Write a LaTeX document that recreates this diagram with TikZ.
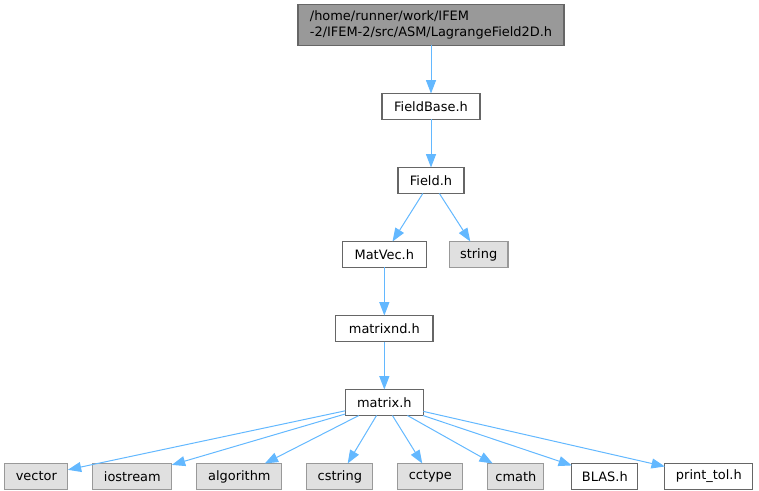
\documentclass[tikz,border=0pt]{standalone}
\usepackage{fontspec}
\setmainfont{DejaVu Sans}
\usepackage{tikz}
\usetikzlibrary{
  arrows.meta,
  positioning,
}
\definecolor{doxyedge}{RGB}{99, 184, 255}
\definecolor{doxydark}{RGB}{102, 102, 102}
\definecolor{doxymid}{RGB}{153, 153, 153}
\definecolor{doxylight}{RGB}{224, 224, 224}
\tikzstyle{file} = [
  rectangle,
  draw=doxydark,
  fill=white,
  line width=0.9pt,
  minimum height=19.5pt,
  inner sep=0pt,
  outer sep=0pt,
  font=\fontsize{9.7}{11.6}\selectfont,
]
\tikzstyle{sysfile} = [file, draw=doxymid, fill=doxylight]
\tikzstyle{header} = [file, fill=doxymid, minimum height=30.75pt, align=left]
\tikzstyle{arrow} = [
  -{Triangle[length=10pt,width=7.5pt]},
  line width=0.75pt,
  doxyedge,
]

\begin{document}
\begin{tikzpicture}[x=0.75pt,y=-0.75pt,node distance=36pt and 18.75pt]
      \useasboundingbox (0,0) rectangle (759,491);

      \node[header,minimum width=199.5pt] (lagrange) at (431,25) {/home/runner/work/IFEM\\-2/IFEM-2/src/ASM/LagrangeField2D.h};
      \node[file,minimum width=73.5pt] (fieldbase) [below=of lagrange] {FieldBase.h};
      \node[file,minimum width=49.5pt] (field) [below=of fieldbase] {Field.h};

      \node[file,minimum width=63pt,xshift=-35pt] (matvec) [below=of field] {MatVec.h};
      \node[sysfile,minimum width=44pt] (string) [right=17.25pt of matvec] {string};
      \node[file,minimum width=73pt] (matrixnd) [below=of matvec] {matrixnd.h};
      \node[file,minimum width=58.5pt] (matrix) [below=of matrixnd] {matrix.h};

      \node[sysfile,minimum width=47.25pt,xshift=-261pt] (vector) [below=of matrix] {vector};
      \node[sysfile,minimum width=59.25pt] (iostream) [right=of vector] {iostream};
      \node[sysfile,minimum width=63.75pt] (algorithm) [right=of iostream] {algorithm};
      \node[sysfile,minimum width=49.5pt] (cstring) [right=of algorithm] {cstring};
      \node[sysfile,minimum width=48.75pt] (cctype) [right=of cstring] {cctype};
      \node[sysfile,minimum width=42pt] (cmath) [right=of cctype] {cmath};
      \node[file,minimum width=49.5pt] (blas) [right=21pt of cmath] {BLAS.h};
      \node[file,minimum width=66pt] (printtol) [right=20.25pt of blas] {print\_tol.h};

      \draw[arrow] (lagrange) -- (fieldbase);
      \draw[arrow] (fieldbase) -- (field);
      \draw[arrow] (field) -- (matvec);
      \draw[arrow] (field) -- (string);
      \draw[arrow] (matvec) -- (matrixnd);
      \draw[arrow] (matrixnd) -- (matrix);

      \draw[arrow] (matrix) -- (vector);
      \draw[arrow] (matrix) -- (iostream);
      \draw[arrow] (matrix) -- (algorithm);
      \draw[arrow] (matrix) -- (cstring);
      \draw[arrow] (matrix) -- (cctype);
      \draw[arrow] (matrix) -- (cmath);
      \draw[arrow] (matrix) -- (blas);
      \draw[arrow] (matrix) -- (printtol);
    \end{tikzpicture}
\end{document}
